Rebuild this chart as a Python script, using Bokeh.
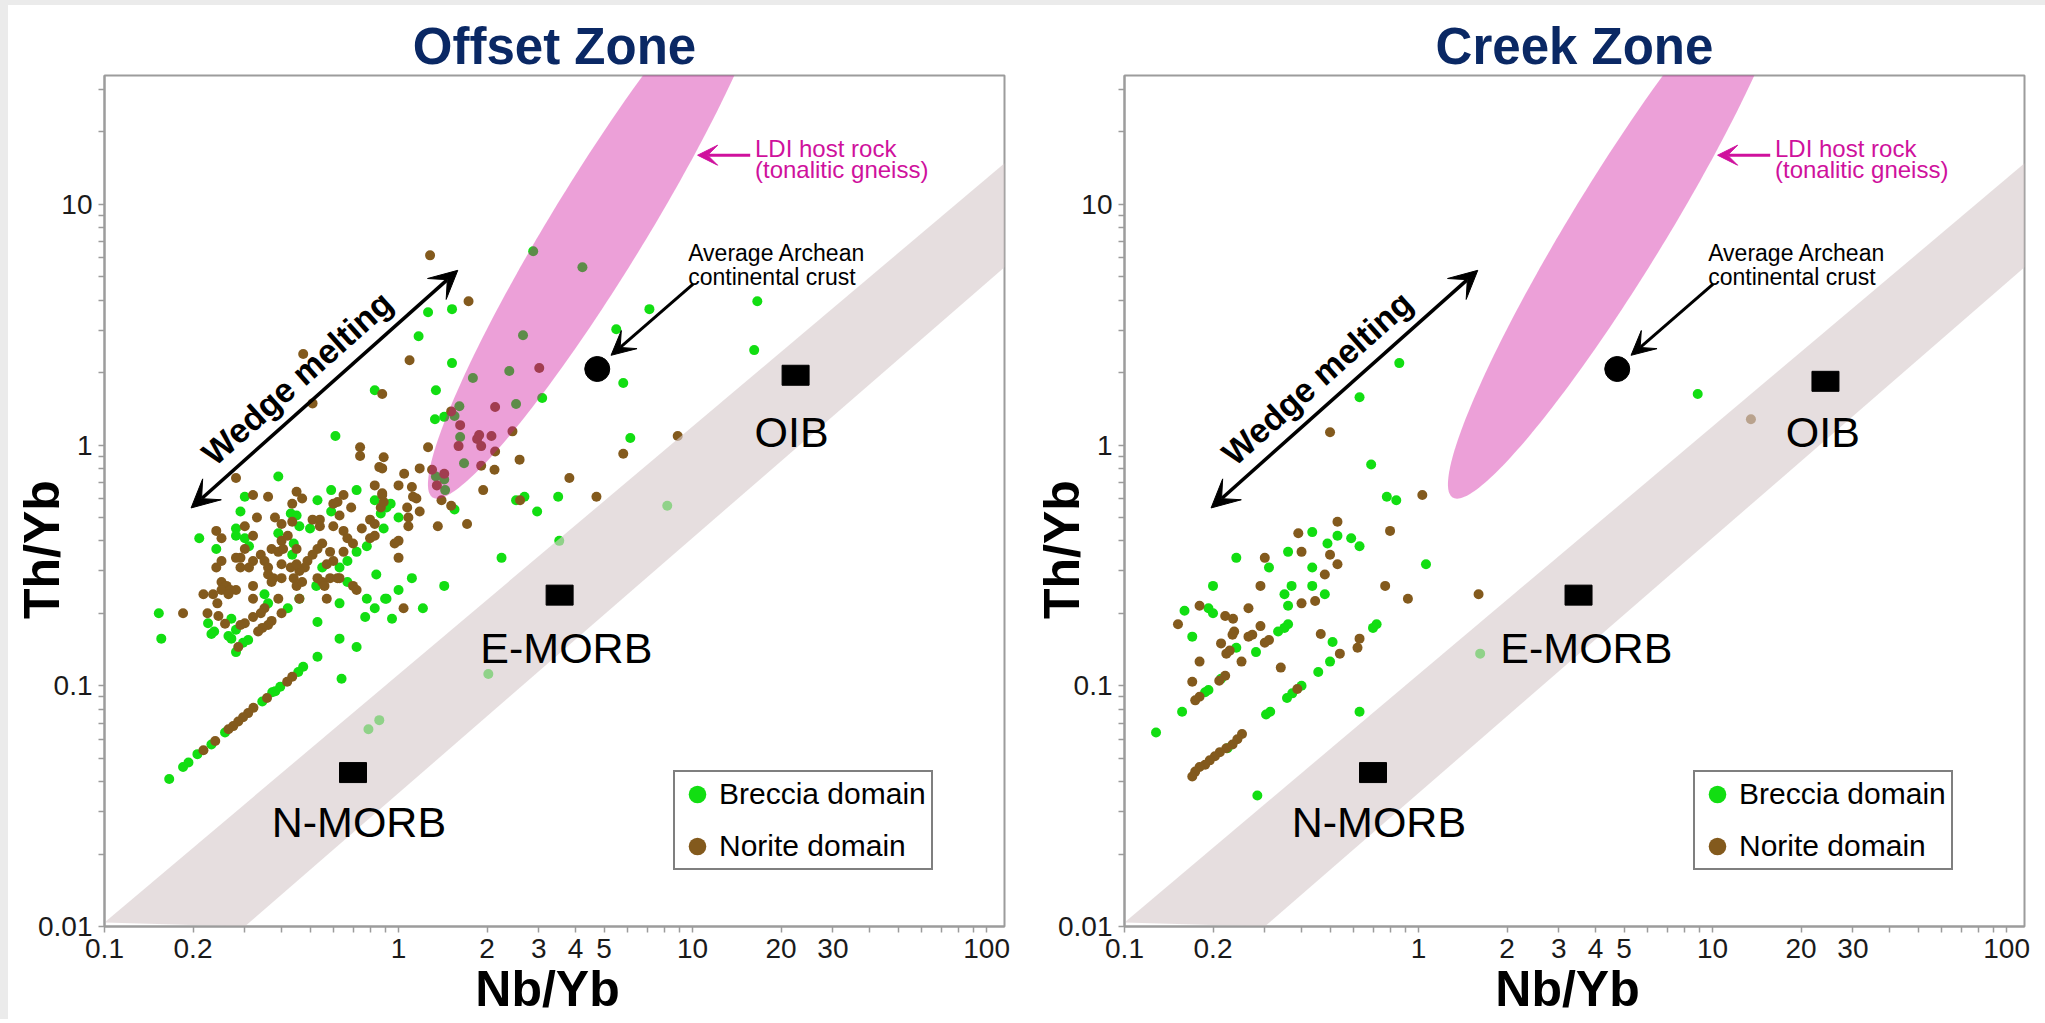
import numpy as np
from bokeh.plotting import figure
from bokeh.models import (Range1d, FixedTicker, NumeralTickFormatter, Label, Arrow, VeeHead,
                          Legend, LegendItem)
from bokeh.layouts import row
from bokeh.embed import file_html
from bokeh.resources import INLINE

FONT = "Liberation Sans"

# ---------------- data: Offset Zone ----------------
offset_breccia_nb = [0.61, 0.39, 0.59, 0.72, 0.30, 0.53, 0.83, 0.29, 0.59, 0.43,
                     0.45, 0.46, 0.87, 0.28, 0.50, 0.21, 0.28, 0.30, 0.39, 0.44,
                     0.78, 0.24, 0.31, 0.435, 0.72, 0.55, 0.63, 0.67, 0.84, 0.525,
                     0.67, 0.35, 0.46, 0.63, 0.78, 0.90, 0.36, 0.42, 0.83, 0.153,
                     0.27, 0.225, 0.77, 0.53, 0.28, 0.264, 0.27, 0.236, 0.231, 0.156,
                     0.308, 0.296, 0.63, 0.72, 0.28, 0.53, 0.474, 0.456, 0.396, 0.381,
                     0.372, 0.344, 0.257, 0.231, 0.207, 0.193, 0.185, 0.166, 0.64, 0.86,
                     0.79, 1.34, 1.33, 3.08, 5.81, 1.61, 2.51, 1.43, 1.55, 1.62,
                     1.67, 1.34, 1.43, 1.44, 6.14, 1.55, 2.51, 2.68, 3.49, 2.96,
                     0.94, 0.91, 1.0, 0.89, 3.52, 2.24, 1.11, 1.43, 1.0, 0.91,
                     1.21, 0.95, 1.26, 1.52, 1.17, 1.52, 2.87, 4.22, 2.65, 2.38,
                     1.79, 7.13, 5.50, 16.6, 16.2, 8.2, 2.02, 0.83]
offset_breccia_th = [1.09, 0.74, 0.65, 0.65, 0.61, 0.59, 0.59, 0.53, 0.53, 0.52,
                     0.51, 0.46, 0.52, 0.45, 0.45, 0.41, 0.42, 0.41, 0.43, 0.39,
                     0.38, 0.37, 0.38, 0.35, 0.36, 0.31, 0.31, 0.33, 0.29, 0.26,
                     0.27, 0.24, 0.23, 0.22, 0.23, 0.23, 0.22, 0.21, 0.21, 0.20,
                     0.19, 0.182, 0.193, 0.184, 0.171, 0.161, 0.157, 0.168, 0.164, 0.157,
                     0.155, 0.151, 0.157, 0.145, 0.138, 0.132, 0.120, 0.114, 0.099, 0.095,
                     0.094, 0.086, 0.064, 0.057, 0.052, 0.048, 0.046, 0.041, 0.107, 0.072,
                     0.066, 1.69, 1.28, 1.57, 1.81, 1.45, 1.48, 1.31, 1.32, 1.08,
                     0.84, 0.74, 0.72, 0.65, 1.07, 0.54, 0.59, 0.61, 0.61, 0.53,
                     0.57, 0.55, 0.50, 0.45, 0.40, 0.34, 0.28, 0.26, 0.25, 0.23,
                     0.21, 0.19, 3.56, 3.67, 2.83, 2.19, 6.38, 5.48, 2.86, 2.03,
                     1.90, 3.67, 3.03, 3.96, 2.48, 0.56, 0.112, 1.69]

offset_norite_nb = [0.74, 0.74, 0.89, 0.86, 0.28, 0.83, 0.88, 0.45, 0.47, 0.32,
                    0.36, 0.65, 0.62, 0.60, 0.87, 0.435, 0.69, 0.33, 0.38, 0.40,
                    0.435, 0.51, 0.54, 0.54, 0.63, 0.60, 0.80, 0.83, 0.30, 0.24,
                    0.65, 0.67, 0.70, 0.75, 0.80, 0.83, 0.25, 0.32, 0.40, 0.42,
                    0.55, 0.53, 0.30, 0.29, 0.37, 0.39, 0.405, 0.45, 0.34, 0.35,
                    0.32, 0.51, 0.49, 0.48, 0.46, 0.585, 0.60, 0.65, 0.24, 0.25,
                    0.28, 0.29, 0.31, 0.36, 0.36, 0.40, 0.40, 0.43, 0.45, 0.57,
                    0.585, 0.62, 0.63, 0.44, 0.45, 0.47, 0.53, 0.55, 0.56, 0.375,
                    0.37, 0.25, 0.26, 0.28, 0.25, 0.32, 0.70, 0.72, 0.217, 0.234, 0.242,
                    0.268, 0.264, 0.39, 0.32, 0.46, 0.57, 0.35, 0.34, 0.40, 0.224, 0.185,
                    0.32, 0.244, 0.30, 0.29, 0.37, 0.36, 0.344, 0.333, 0.257, 0.285,
                    0.435, 0.418, 0.357, 0.321, 0.308, 0.296, 0.285, 0.274, 0.264, 0.238, 0.217,
                    0.88, 1.51, 2.13, 1.62, 1.88, 1.85, 2.07, 1.60, 1.91,
                    1.30, 1.43, 1.35, 2.44, 1.26, 2.13, 2.58, 1.91, 2.12, 1.18,
                    0.88, 1.045, 1.11, 1.0, 3.81, 5.81, 1.94, 1.12, 1.15, 0.88,
                    0.89, 1.40, 1.51, 2.59, 4.71, 1.07, 1.18, 1.08, 1.08, 1.36, 1.71,
                    1.0, 0.97, 1.0, 1.04, 1.28, 1.73, 1.09, 3.01, 0.474, 0.51, 8.9]
offset_norite_th = [0.98, 0.90, 0.89, 0.81, 0.73, 0.68, 0.63, 0.64, 0.60, 0.62,
                    0.61, 0.62, 0.58, 0.57, 0.55, 0.57, 0.55, 0.50, 0.50, 0.47,
                    0.48, 0.49, 0.49, 0.46, 0.51, 0.46, 0.49, 0.47, 0.46, 0.44,
                    0.44, 0.41, 0.39, 0.45, 0.41, 0.42, 0.41, 0.42, 0.40, 0.42,
                    0.39, 0.37, 0.37, 0.34, 0.37, 0.36, 0.37, 0.37, 0.35, 0.33,
                    0.33, 0.35, 0.33, 0.31, 0.30, 0.36, 0.33, 0.36, 0.31, 0.33,
                    0.34, 0.31, 0.31, 0.31, 0.29, 0.32, 0.28, 0.31, 0.32, 0.32,
                    0.28, 0.28, 0.28, 0.28, 0.26, 0.27, 0.28, 0.27, 0.26, 0.28,
                    0.27, 0.27, 0.26, 0.25, 0.25, 0.26, 0.26, 0.25, 0.24, 0.24, 0.22,
                    0.25, 0.24, 0.23, 0.23, 0.23, 0.23, 0.21, 0.20, 0.20, 0.20, 0.20,
                    0.193, 0.195, 0.182, 0.179, 0.186, 0.179, 0.174, 0.168, 0.181, 0.145,
                    0.109, 0.104, 0.089, 0.081, 0.077, 0.074, 0.071, 0.068, 0.066, 0.059, 0.054,
                    1.63, 1.38, 1.44, 1.21, 1.10, 1.06, 1.09, 0.99, 0.99,
                    0.79, 0.76, 0.68, 1.14, 0.98, 0.94, 0.87, 0.82, 0.79, 0.80,
                    0.80, 0.76, 0.67, 0.68, 0.73, 0.92, 0.65, 0.61, 0.60, 0.62,
                    0.58, 0.59, 0.56, 0.59, 0.61, 0.55, 0.53, 0.50, 0.46, 0.46, 0.47,
                    0.40, 0.39, 0.34, 0.21, 6.14, 3.96, 2.25, 2.09, 2.39, 1.49, 1.09]

# ---------------- data: Creek Zone ----------------
creek_breccia_nb = [0.63, 0.69, 0.78, 0.84, 0.435, 0.53, 0.59, 0.49, 0.63, 0.36,
                    0.24, 0.31, 1.06, 0.435, 0.37, 0.35, 0.435, 0.48, 0.20, 0.36,
                    0.16, 0.193, 0.20, 0.36, 0.35, 0.72, 0.70, 0.17, 0.333, 0.24,
                    0.28, 0.51, 0.50, 0.456, 0.213, 0.193, 0.188, 0.157, 0.40, 0.372,
                    0.357, 0.313, 0.303, 0.63, 0.128, 0.224, 0.283, 0.86, 8.9, 1.62]
creek_breccia_th = [1.58, 0.83, 0.61, 0.59, 0.435, 0.42, 0.41, 0.39, 0.38, 0.36,
                    0.34, 0.31, 0.32, 0.31, 0.26, 0.24, 0.26, 0.24, 0.26, 0.215,
                    0.205, 0.21, 0.20, 0.18, 0.174, 0.18, 0.174, 0.16, 0.168, 0.144,
                    0.138, 0.152, 0.126, 0.114, 0.107, 0.096, 0.094, 0.078, 0.100, 0.093,
                    0.089, 0.078, 0.076, 0.078, 0.064, 0.055, 0.035, 2.19, 1.63, 0.136]

creek_norite_nb = [0.50, 1.03, 0.53, 0.80, 0.39, 0.40, 0.50, 0.30, 0.53, 0.48,
                   0.29, 0.77, 0.92, 0.40, 0.445, 0.264, 0.18, 0.22, 0.234, 0.152,
                   0.29, 0.236, 0.233, 0.272, 0.264, 0.31, 0.30, 0.213, 0.228, 0.222,
                   0.465, 0.63, 0.62, 0.54, 0.18, 0.25, 0.34, 0.17, 0.22, 0.21,
                   0.18, 0.174, 0.387, 0.251, 0.242, 0.233, 0.222, 0.211, 0.203, 0.195,
                   0.188, 0.18, 0.174, 0.170, 13.5, 1.6]
creek_norite_th = [1.13, 0.62, 0.48, 0.44, 0.43, 0.36, 0.35, 0.34, 0.32, 0.29,
                   0.26, 0.26, 0.23, 0.22, 0.225, 0.21, 0.215, 0.195, 0.19, 0.18,
                   0.177, 0.168, 0.163, 0.163, 0.16, 0.155, 0.151, 0.15, 0.14, 0.136,
                   0.164, 0.157, 0.144, 0.136, 0.126, 0.126, 0.119, 0.104, 0.11, 0.105,
                   0.09, 0.087, 0.097, 0.063, 0.060, 0.057, 0.055, 0.053, 0.051, 0.049,
                   0.047, 0.046, 0.044, 0.042, 1.28, 0.24]

# ---------------- reference compositions ----------------
ref_names = ["N-MORB", "E-MORB", "OIB"]
offset_ref_nb = [0.70, 3.53, 22.4]
offset_ref_th = [0.0436, 0.238, 1.95]
creek_ref_nb = [0.70, 3.50, 24.2]
creek_ref_th = [0.0436, 0.238, 1.84]
crust_nb = [4.74]
crust_th = [2.07]

x_major = [0.1, 0.2, 1, 2, 3, 4, 5, 10, 20, 30, 100]
y_major = [0.01, 0.1, 1, 10]

# ---------------- styling ----------------
GREEN = "#12DE12"
BROWN = "#835A1D"
PINK = "#CF119D"
BAND = "#D8CBCD"
NAVY = "#0A2864"
AXIS_GREY = "#9c9c9c"
NBSP = "\u00a0"

X_RANGE = (0.1, 115.0)
Y_RANGE = (0.01, 34.3)
FW, FH = 900, 851


def minor_list(major, lo_exp, hi_exp):
    out = []
    for e in range(lo_exp, hi_exp + 1):
        for m in range(1, 10):
            v = round(m * 10.0 ** e, 6)
            if v not in major:
                out.append(v)
    return out


def make_panel(title, br_nb, br_th, no_nb, no_th, ref_nb, ref_th, lab_pos,
               border_left, border_right):
    p = figure(frame_width=FW, frame_height=FH, x_axis_type="log", y_axis_type="log",
               x_range=Range1d(*X_RANGE), y_range=Range1d(*Y_RANGE),
               output_backend="svg", toolbar_location=None,
               min_border_left=border_left, min_border_right=border_right,
               min_border_top=70, min_border_bottom=92,
               background_fill_color="white", border_fill_color="white")
    p.title.text = title
    p.title.text_font = FONT
    p.title.text_font_size = "51px"
    p.title.text_font_style = "bold"
    p.title.text_color = NAVY
    p.title.align = "center"
    p.title.standoff = 2

    p.grid.visible = False
    p.outline_line_color = AXIS_GREY
    p.outline_line_width = 2

    p.xaxis.ticker = FixedTicker(ticks=x_major, minor_ticks=minor_list(x_major, -1, 1))
    p.yaxis.ticker = FixedTicker(ticks=y_major, minor_ticks=minor_list(y_major, -2, 1))
    for ax in (p.xaxis, p.yaxis):
        ax.formatter = NumeralTickFormatter(format="0.[00]")
        ax.major_label_text_font = FONT
        ax.major_label_text_font_size = "28px"
        ax.major_label_text_color = "#1a1a1a"
        ax.axis_line_color = AXIS_GREY
        ax.axis_line_width = 2
        ax.major_tick_line_color = AXIS_GREY
        ax.minor_tick_line_color = AXIS_GREY
        ax.major_tick_line_width = 1.5
        ax.minor_tick_line_width = 1.5
        ax.major_tick_out = 6
        ax.major_tick_in = 0
        ax.minor_tick_out = 6
        ax.minor_tick_in = 0
        ax.major_label_standoff = 6
        ax.axis_label_text_font = FONT
        ax.axis_label_text_font_size = "50px"
        ax.axis_label_text_font_style = "bold"
        ax.axis_label_text_color = "black"

    # axis titles
    p.xaxis.axis_label = "Nb/Yb" + NBSP
    p.xaxis.axis_label_standoff = 0
    p.yaxis.axis_label = "Th/Yb" + NBSP * 7
    p.yaxis.axis_label_standoff = -35

    # data points
    p.scatter(br_nb, br_th, size=10, color=GREEN, line_color=None)
    p.scatter(no_nb, no_th, size=10, color=BROWN, line_color=None)

    # MORB-OIB array band (drawn over the points, translucent)
    xmax = X_RANGE[1]
    p.patch([0.1, 0.30, xmax, xmax], [0.0104, 0.01, 5.48, 14.8],
            fill_color=BAND, fill_alpha=0.64, line_color=None)

    # LDI host rock field (ellipse in log space)
    kx = FW / np.log10(X_RANGE[1] / X_RANGE[0])
    ky = FH / np.log10(Y_RANGE[1] / Y_RANGE[0])
    t = np.linspace(0, 2 * np.pi, 240)
    a_px, b_px, th = 318.0, 47.0, np.deg2rad(58.5)
    dx = a_px * np.cos(t) * np.cos(th) - b_px * np.sin(t) * np.sin(th)
    dy = a_px * np.cos(t) * np.sin(th) + b_px * np.sin(t) * np.cos(th)
    ex = 10 ** (np.log10(4.80) + dx / kx)
    ey = 10 ** (np.log10(8.10) + dy / ky)
    p.patch(ex, ey, fill_color=PINK, fill_alpha=0.4, line_color=None)

    # reference compositions
    p.rect(ref_nb, ref_th, width=27, height=20, width_units="screen",
           height_units="screen", color="black")
    for name, (lx, ly) in zip(ref_names, lab_pos):
        p.add_layout(Label(x=lx, y=ly, text=name, text_font=FONT, text_font_size="43px",
                           text_align="center", text_baseline="alphabetic",
                           text_color="black"))
    p.scatter(crust_nb, crust_th, size=25, color="black")

    # annotations
    p.add_layout(Label(x=9.66, y=6.26, text="Average Archean", text_font=FONT,
                       text_font_size="23px", text_baseline="alphabetic",
                       text_color="black"))
    p.add_layout(Label(x=9.66, y=4.98, text="continental crust", text_font=FONT,
                       text_font_size="23px", text_baseline="alphabetic",
                       text_color="black"))
    p.add_layout(Arrow(x_start=10.06, y_start=4.67, x_end=5.28, y_end=2.36,
                       line_width=3, line_color="black",
                       end=VeeHead(size=24, fill_color="black", line_color="black")))

    p.add_layout(Label(x=16.3, y=17.0, text="LDI host rock", text_font=FONT,
                       text_font_size="24px", text_color=PINK, text_baseline="alphabetic"))
    p.add_layout(Label(x=16.3, y=13.9, text="(tonalitic gneiss)", text_font=FONT,
                       text_font_size="24px", text_color=PINK, text_baseline="alphabetic"))
    p.add_layout(Arrow(x_start=15.7, y_start=16.0, x_end=10.4, y_end=16.0,
                       line_width=3, line_color=PINK,
                       end=VeeHead(size=20, fill_color=PINK, line_color=PINK)))

    p.add_layout(Arrow(x_start=0.197, y_start=0.548, x_end=1.59, y_end=5.32,
                       line_width=3.5, line_color="black",
                       start=VeeHead(size=28, fill_color="black", line_color="black"),
                       end=VeeHead(size=28, fill_color="black", line_color="black")))
    p.add_layout(Label(x=0.452, y=1.90, text="Wedge melting", angle=np.deg2rad(41.7),
                       text_font=FONT, text_font_size="34px", text_font_style="bold",
                       text_align="center", text_baseline="middle", text_color="black"))

    # legend (hidden proxies, key glyph sized like the reference)
    g1 = p.scatter(br_nb, br_th, size=18, color=GREEN, line_color=None, visible=False)
    g2 = p.scatter(no_nb, no_th, size=18, color=BROWN, line_color=None, visible=False)
    legend = Legend(items=[LegendItem(label="Breccia domain", renderers=[g1]),
                           LegendItem(label="Norite domain", renderers=[g2])],
                    location=(569, 56), padding=0, spacing=8, margin=0,
                    glyph_width=44, glyph_height=44, label_height=35, label_standoff=0,
                    label_width=212,
                    label_text_font=FONT, label_text_font_size="30px",
                    label_text_color="black",
                    inactive_fill_alpha=0.0,
                    border_line_color="black", border_line_width=2.5,
                    background_fill_color="white", background_fill_alpha=1.0)
    p.add_layout(legend)
    return p


offset_labels = [(0.733, 0.0271), (3.72, 0.143), (21.7, 1.138)]
creek_labels = [(0.733, 0.0271), (3.72, 0.143), (23.7, 1.138)]

p1 = make_panel("Offset Zone", offset_breccia_nb, offset_breccia_th,
                offset_norite_nb, offset_norite_th, offset_ref_nb, offset_ref_th,
                offset_labels, 96, 16)
p2 = make_panel("Creek Zone", creek_breccia_nb, creek_breccia_th,
                creek_norite_nb, creek_norite_th, creek_ref_nb, creek_ref_th,
                creek_labels, 104, 21)

layout = row(p1, p2, styles={"background-color": "white",
                             "border-left": "8px solid #ebebeb",
                             "border-top": "5px solid #ebebeb"})

open("out.html", "w").write(file_html(layout, INLINE))
